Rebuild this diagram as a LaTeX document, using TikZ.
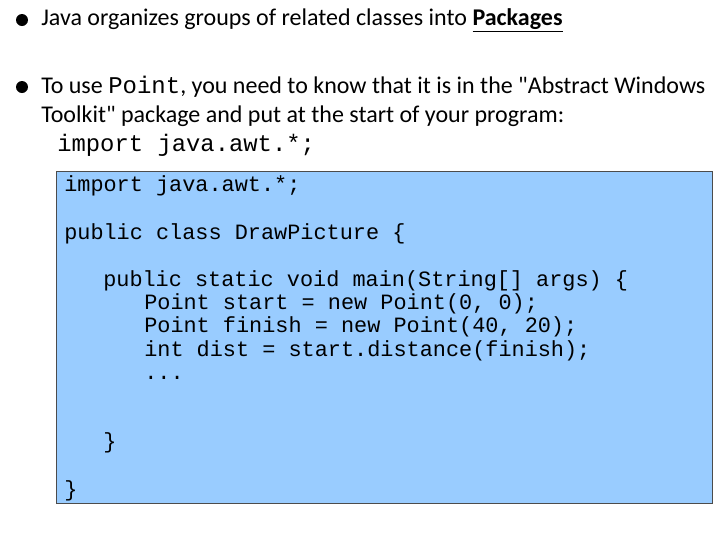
\documentclass[tikz,border=0pt]{standalone}
\usepackage{fontspec}
\setmainfont{Carlito}
\setmonofont{Liberation Mono}
\begin{document}
\begin{tikzpicture}[x=0.75pt,y=-0.75pt,
  txt/.style={anchor=west,inner sep=0pt,font=\fontsize{18}{21}\selectfont},
  code/.style={anchor=base west,inner sep=0pt,font=\ttfamily\fontsize{16.4}{19}\selectfont},
  bul/.style={circle,fill=black,inner sep=0pt,minimum size=9pt}]
\useasboundingbox (0,0) rectangle (720,540);
\node[bul] (b1) at (22,20) {};
\node[txt] (t1) at (41,20) {Java organizes groups of related classes into \textbf{\underline{Packages}}};
\node[bul] (b2) at (22,87) {};
\node[txt] (t2) at (41,87) {To use \texttt{Point}, you need to know that it is in the \textquotedbl Abstract Windows};
\node[txt] (t3) at (41,116) {Toolkit\textquotedbl{} package and put at the start of your program:};
\node[txt,font=\ttfamily\fontsize{17.9}{20}\selectfont] (t4) at (57,145) {import java.awt.*;};
\node[draw=black!70,fill={rgb,255:red,153;green,204;blue,255},line width=1pt,inner sep=0pt,minimum width=656*0.75pt,minimum height=332*0.75pt,anchor=north west] (box) at (56,171) {};
\node[code] (c1) at (64,191) {import java.awt.*;};
\node[code] (c2) at (64,239) {public class DrawPicture \{};
\node[code] (c3) at (103,286) {public static void main(String[] args) \{};
\node[code] (c4) at (144,309) {Point start = new Point(0, 0);};
\node[code] (c5) at (144,332) {Point finish = new Point(40, 20);};
\node[code] (c6) at (144,356) {int dist = start.distance(finish);};
\node[code] (c7) at (144,379) {...};
\node[code] (c8) at (103,448) {\}};
\node[code] (c9) at (64,496) {\}};
\end{tikzpicture}
\end{document}
